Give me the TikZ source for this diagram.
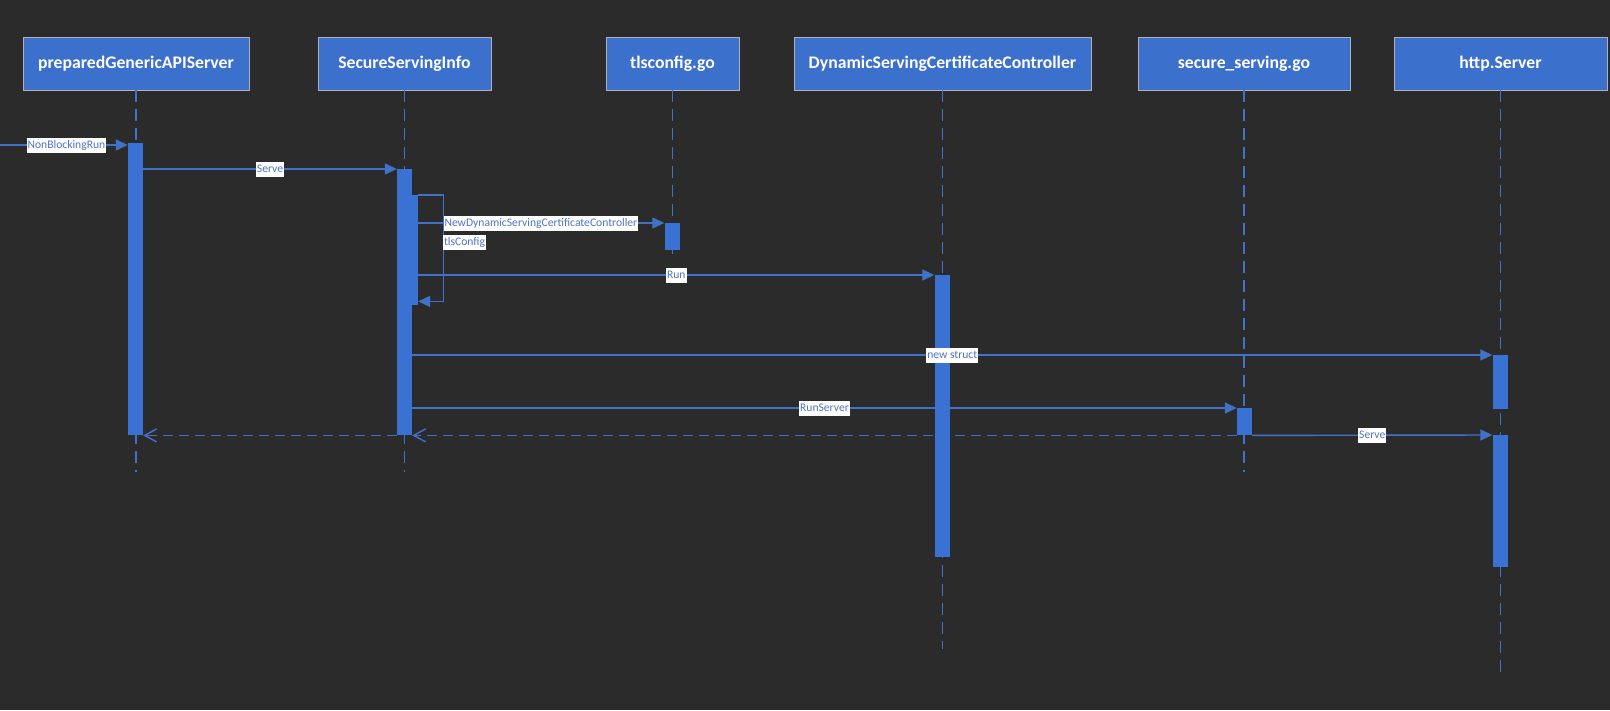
\documentclass[tikz,border=0pt]{standalone}
\usepackage{fontspec}
\setmainfont{Carlito}
\usetikzlibrary{arrows.meta,positioning}
\definecolor{bgdark}{RGB}{44,43,44}
\definecolor{boxblue}{RGB}{60,112,205}
\definecolor{lineblue}{RGB}{66,114,200}
\definecolor{barblue}{RGB}{58,114,212}
\definecolor{lblblue}{RGB}{80,115,195}
\begin{document}
\begin{tikzpicture}[x=1pt, y=-1pt,
    actor/.style={draw=gray!60, line width=0.8pt, fill=boxblue, text=white, font=\fontsize{17.7}{20}\selectfont\bfseries, minimum height=53pt, inner sep=0pt},
    lifeline/.style={draw=lineblue, line width=1.3pt, dash pattern=on 12pt off 7pt},
    actbar/.style={fill=barblue, minimum width=15pt, inner sep=0pt, anchor=north},
    msg/.style={draw=lineblue, line width=1.4pt, -{Triangle[length=12pt,width=11pt]}},
    reply/.style={draw=lineblue, line width=1.4pt, dash pattern=on 10pt off 6pt, -{Straight Barb[length=12pt,width=13pt]}},
    lbl/.style={fill=white, text=lblblue, font=\fontsize{11.6}{13}\selectfont, inner sep=1pt, minimum height=15pt}]
    \useasboundingbox (0,0) rectangle (1610,710);
    \fill[bgdark] (0,0) rectangle (1610,710);
    % participants
    \node[actor, minimum width=226pt] (pgas) at (136,63.5) {preparedGenericAPIServer};
    \node[actor, minimum width=173pt] (ssi) at (404.5,63.5) {SecureServingInfo};
    \node[actor, minimum width=133pt] (tls) at (672.5,63.5) {tlsconfig.go};
    \node[actor, minimum width=297pt] (dscc) at (942.5,63.5) {DynamicServingCertificateController};
    \node[actor, minimum width=212pt] (ssgo) at (1244,63.5) {secure\_serving.go};
    \node[actor, minimum width=213pt] (http) at (1500.5,63.5) {http.Server};
    \foreach \n/\len in {pgas/382, ssi/382, tls/169, dscc/559, ssgo/382, http/586}
        \draw[lifeline] (\n.south) -- ++(0,\len);
    % activations
    \node[actbar, minimum height=292pt] (a1) at (135.5,143) {};
    \node[actbar, minimum height=266pt] (a2) at (404.5,169) {};
    \node[actbar, minimum width=14pt, minimum height=110pt] (a3) at (411,195) {};
    \node[actbar, minimum height=27pt] (a4) at (672,223) {};
    \node[actbar, minimum height=282pt] (a5) at (942,275) {};
    \node[actbar, minimum height=54pt] (a6) at (1500,355) {};
    \node[actbar, minimum height=27pt] (a7) at (1244.5,408) {};
    \node[actbar, minimum height=132pt] (a8) at (1500,435) {};
    % messages
    \coordinate (entry) at (0,145);
    \draw[msg] (entry) -- (a1.west |- entry) node[lbl, pos=0.52] (l1) {NonBlockingRun};
    \draw[msg] (a1.east |- a2.north) -- (a2.north west) node[lbl, midway] (l2) {Serve};
    \draw[msg] (a3.north east) -- ++(25,0) |- ([yshift=4pt]a3.south east);
    \draw[msg] (a3.east |- a4.north) -- (a4.north west) node[lbl, pos=0.1, anchor=west] (l3) {NewDynamicServingCertificateController};
    \node[lbl, anchor=west] (l4) at ([yshift=-19pt]l3.west) {tlsConfig};
    \draw[msg] (a3.east |- a5.north) -- (a5.north west) node[lbl, midway] (l5) {Run};
    \draw[msg] (a2.east |- a6.north) -- (a6.north west) node[lbl, midway] (l6) {new struct};
    \draw[msg] (a2.east |- a7.north) -- (a7.north west) node[lbl, midway] (l7) {RunServer};
    \draw[reply] (a7.south west) -- (a2.south east);
    \draw[reply] (a2.south west) -- (a1.south east);
    \draw[msg] (a7.south east) -- (a8.north west) node[lbl, midway] (l8) {Serve};
\end{tikzpicture}
\end{document}
